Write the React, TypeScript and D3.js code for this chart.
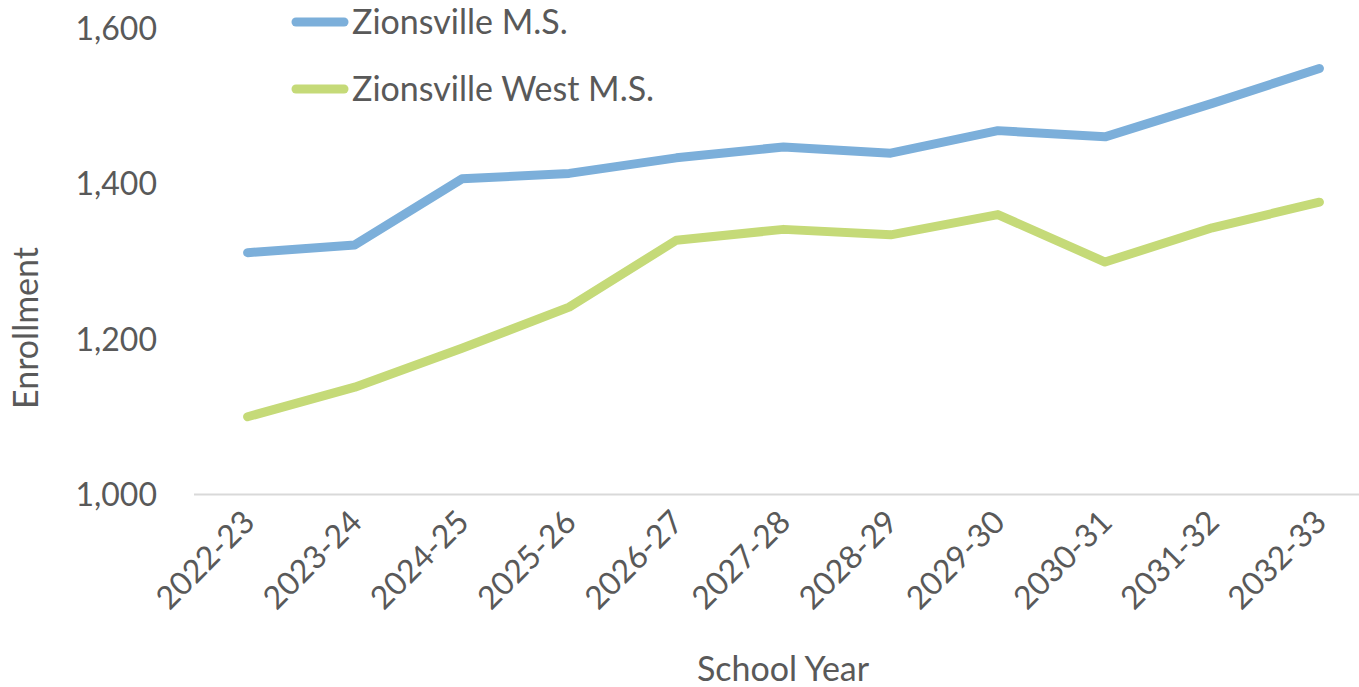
import React from 'react';
import * as d3 from 'd3';

const years = [
  '2022-23', '2023-24', '2024-25', '2025-26', '2026-27', '2027-28',
  '2028-29', '2029-30', '2030-31', '2031-32', '2032-33',
];
const zionsvilleMS = [1311, 1321, 1406, 1413, 1433, 1447, 1439, 1468, 1460, 1503, 1548];
const zionsvilleWestMS = [1100, 1138, 1188, 1241, 1327, 1341, 1334, 1360, 1299, 1343, 1376];
const yTicks = [1000, 1200, 1400, 1600];

const series = [
  { name: 'Zionsville M.S.', values: zionsvilleMS, color: '#7cafda' },
  { name: 'Zionsville West M.S.', values: zionsvilleWestMS, color: '#c5da78' },
];

const width = 1359;
const height = 687;
const textColor = '#595959';
const font = 'Lato, "Open Sans", sans-serif';

const App = () => {
  // plot area runs off the right edge, like the original picture
  const x = d3.scaleBand().domain(years).range([194, 1373]);
  const y = d3.scaleLinear().domain([1000, 1600]).range([494.5, 28]);
  const fmt = d3.format(',');

  const line = d3
    .line<number>()
    .x((_, i) => (x(years[i]) as number) + x.bandwidth() / 2)
    .y((d) => y(d));

  return (
    <div style={{ position: 'absolute', left: 0, top: 0 }}>
      <svg width={width} height={height} style={{ display: 'block', fontFamily: font }}>
        <rect width={width} height={height} fill="#fff" />

        {/* baseline */}
        <line x1={194} x2={1373} y1={y(1000)} y2={y(1000)} stroke="#d9d9d9" strokeWidth={2} />

        {/* y tick labels */}
        {yTicks.map((t) => (
          <text
            key={t}
            x={157}
            y={y(t)}
            dy="0.36em"
            textAnchor="end"
            fill={textColor}
            style={{ fontSize: 32 }}
          >
            {fmt(t)}
          </text>
        ))}

        {/* x tick labels */}
        {years.map((yr) => {
          const cx = (x(yr) as number) + x.bandwidth() / 2;
          return (
            <text
              key={yr}
              transform={`translate(${cx + 9}, ${524}) rotate(-45)`}
              textAnchor="end"
              fill={textColor}
              style={{ fontSize: 32 }}
            >
              {yr}
            </text>
          );
        })}

        {/* axis titles */}
        <text
          transform={`translate(38, 328) rotate(-90)`}
          textAnchor="middle"
          fill={textColor}
          style={{ fontSize: 34 }}
        >
          Enrollment
        </text>
        <text x={783} y={681} textAnchor="middle" fill={textColor} style={{ fontSize: 34 }}>
          School Year
        </text>

        {/* lines */}
        {series.map((s) => (
          <path
            key={s.name}
            d={line(s.values) || undefined}
            fill="none"
            stroke={s.color}
            strokeWidth={9}
            strokeLinecap="round"
            strokeLinejoin="round"
          />
        ))}

        {/* legend */}
        {series.map((s, i) => {
          const ly = 22 + i * 67;
          return (
            <g key={s.name}>
              <line x1={296} x2={344} y1={ly} y2={ly} stroke={s.color} strokeWidth={9} strokeLinecap="round" />
              <text x={352} y={ly} dy="0.36em" fill={textColor} style={{ fontSize: 34 }}>
                {s.name}
              </text>
            </g>
          );
        })}
      </svg>
    </div>
  );
};

export default App;
